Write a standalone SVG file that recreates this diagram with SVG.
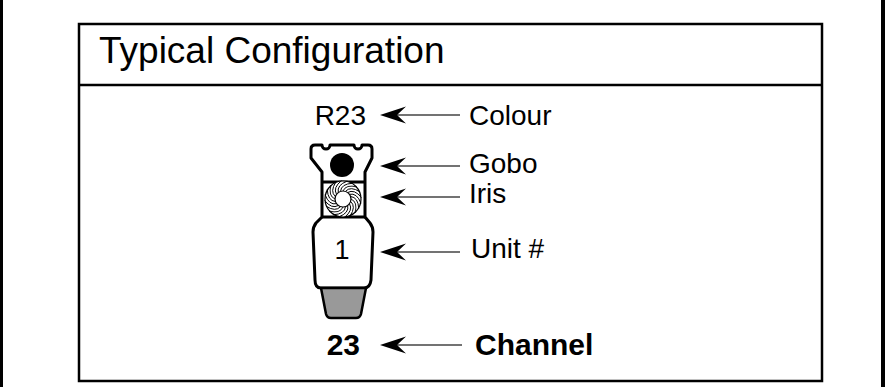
<svg xmlns="http://www.w3.org/2000/svg" xmlns:xlink="http://www.w3.org/1999/xlink" width="885" height="387" viewBox="0 0 885 387">
<style>
.t{font-family:"Liberation Sans",Arial,sans-serif;fill:#000}
.lbl{font-size:28px}
.bold{font-size:30px;font-weight:bold}
.ln{stroke:#444;stroke-width:1.6;fill:none}
.ol{stroke:#000;stroke-width:3;fill:#fff;stroke-linejoin:round}
</style>
<defs>
<path id="ah" d="M0,0 L26,-8.5 L17,0 L26,8.5 Z" fill="#000"/>
<path id="blade" d="M8,0 Q15,3 12,14" fill="none" stroke="#000" stroke-width="0.9"/>
</defs>
<rect width="885" height="387" fill="#fff"/>
<rect x="0" y="0" width="3" height="387" fill="#000"/>
<rect x="881" y="0" width="4" height="387" fill="#000"/>
<g id="frame">
<rect x="79" y="24" width="743" height="357" fill="none" stroke="#000" stroke-width="2.5"/>
<line x1="79" y1="85" x2="822" y2="85" stroke="#000" stroke-width="2.5"/>
<text class="t" x="99" y="63" font-size="37">Typical Configuration</text>
</g>
<g id="fixture">
<path class="ol" d="M322,172 L311,158 L311,149 Q311,145 315,145 L322,145 A4,4 0 0 0 330,145 L354,145 A4,4 0 0 0 362,145 L368,145 Q372,145 372,149 L372,158 L365,172 L365,217 L370,223 Q373,227 373,232 L371,280 Q370,288 364,288 L321,288 Q315,288 315,280 L313,232 Q313,227 316,223 L322,217 Z"/>
<line x1="322" y1="182" x2="365" y2="182" stroke="#000" stroke-width="3"/>
<line x1="322" y1="217" x2="365" y2="217" stroke="#000" stroke-width="3"/>
<circle cx="342" cy="165" r="12" fill="#000"/>
<g transform="translate(343,199)">
<circle r="18" fill="#fff" stroke="#000" stroke-width="1.2"/>
<use xlink:href="#blade"/>
<use xlink:href="#blade" transform="rotate(18)"/>
<use xlink:href="#blade" transform="rotate(36)"/>
<use xlink:href="#blade" transform="rotate(54)"/>
<use xlink:href="#blade" transform="rotate(72)"/>
<use xlink:href="#blade" transform="rotate(90)"/>
<use xlink:href="#blade" transform="rotate(108)"/>
<use xlink:href="#blade" transform="rotate(126)"/>
<use xlink:href="#blade" transform="rotate(144)"/>
<use xlink:href="#blade" transform="rotate(162)"/>
<use xlink:href="#blade" transform="rotate(180)"/>
<use xlink:href="#blade" transform="rotate(198)"/>
<use xlink:href="#blade" transform="rotate(216)"/>
<use xlink:href="#blade" transform="rotate(234)"/>
<use xlink:href="#blade" transform="rotate(252)"/>
<use xlink:href="#blade" transform="rotate(270)"/>
<use xlink:href="#blade" transform="rotate(288)"/>
<use xlink:href="#blade" transform="rotate(306)"/>
<use xlink:href="#blade" transform="rotate(324)"/>
<use xlink:href="#blade" transform="rotate(342)"/>
<circle r="8" fill="#fff" stroke="#000" stroke-width="1.2"/>
</g>
<path d="M321,288 L366,288 L361,314 Q360,318 356,318 L331,318 Q327,318 326,314 Z" fill="#999" stroke="#000" stroke-width="2.5" stroke-linejoin="round"/>
<text class="t" x="342" y="259" font-size="27" text-anchor="middle">1</text>
</g>
<g id="connectors">
<line class="ln" x1="397" y1="115" x2="460" y2="115"/>
<use xlink:href="#ah" x="380" y="115"/>
<line class="ln" x1="397" y1="166" x2="460" y2="166"/>
<use xlink:href="#ah" x="380" y="166"/>
<line class="ln" x1="397" y1="197" x2="460" y2="197"/>
<use xlink:href="#ah" x="380" y="197"/>
<line class="ln" x1="397" y1="252" x2="460" y2="252"/>
<use xlink:href="#ah" x="380" y="252"/>
<line class="ln" x1="397" y1="345" x2="462" y2="345"/>
<use xlink:href="#ah" x="380" y="345"/>
</g>
<g id="labels">
<text class="t lbl" x="366" y="125" text-anchor="end">R23</text>
<text class="t lbl" x="469" y="125">Colour</text>
<text class="t lbl" x="469" y="173">Gobo</text>
<text class="t lbl" x="469" y="203">Iris</text>
<text class="t lbl" x="471" y="258">Unit #</text>
<text class="t bold" x="360" y="355" text-anchor="end">23</text>
<text class="t bold" x="475" y="355">Channel</text>
</g>
</svg>
